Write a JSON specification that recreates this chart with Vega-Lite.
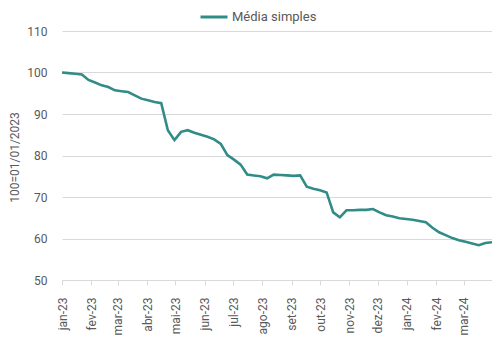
{
  "$schema": "https://vega.github.io/schema/vega-lite/v6.json",
  "width": 430,
  "height": 249,
  "autosize": {"type": "none"},
  "padding": {"left": 62, "top": 31, "right": 0, "bottom": 60},
  "background": "white",
  "config": {
    "font": "Roboto",
    "view": {"stroke": null}
  },
  "data": {
    "values": [
      {"date": "2023-01-01", "v": 100.0, "serie": "Média simples"},
      {"date": "2023-01-08", "v": 99.85, "serie": "Média simples"},
      {"date": "2023-01-15", "v": 99.7, "serie": "Média simples"},
      {"date": "2023-01-22", "v": 99.5, "serie": "Média simples"},
      {"date": "2023-01-29", "v": 98.2, "serie": "Média simples"},
      {"date": "2023-02-05", "v": 97.6, "serie": "Média simples"},
      {"date": "2023-02-12", "v": 96.9, "serie": "Média simples"},
      {"date": "2023-02-19", "v": 96.5, "serie": "Média simples"},
      {"date": "2023-02-26", "v": 95.7, "serie": "Média simples"},
      {"date": "2023-03-05", "v": 95.5, "serie": "Média simples"},
      {"date": "2023-03-12", "v": 95.3, "serie": "Média simples"},
      {"date": "2023-03-19", "v": 94.5, "serie": "Média simples"},
      {"date": "2023-03-26", "v": 93.7, "serie": "Média simples"},
      {"date": "2023-04-02", "v": 93.3, "serie": "Média simples"},
      {"date": "2023-04-09", "v": 92.9, "serie": "Média simples"},
      {"date": "2023-04-16", "v": 92.6, "serie": "Média simples"},
      {"date": "2023-04-23", "v": 86.1, "serie": "Média simples"},
      {"date": "2023-04-30", "v": 83.7, "serie": "Média simples"},
      {"date": "2023-05-07", "v": 85.7, "serie": "Média simples"},
      {"date": "2023-05-14", "v": 86.1, "serie": "Média simples"},
      {"date": "2023-05-21", "v": 85.5, "serie": "Média simples"},
      {"date": "2023-05-28", "v": 85.0, "serie": "Média simples"},
      {"date": "2023-06-04", "v": 84.5, "serie": "Média simples"},
      {"date": "2023-06-11", "v": 83.9, "serie": "Média simples"},
      {"date": "2023-06-18", "v": 82.8, "serie": "Média simples"},
      {"date": "2023-06-25", "v": 80.1, "serie": "Média simples"},
      {"date": "2023-07-02", "v": 79.0, "serie": "Média simples"},
      {"date": "2023-07-09", "v": 77.8, "serie": "Média simples"},
      {"date": "2023-07-16", "v": 75.4, "serie": "Média simples"},
      {"date": "2023-07-23", "v": 75.2, "serie": "Média simples"},
      {"date": "2023-07-30", "v": 75.0, "serie": "Média simples"},
      {"date": "2023-08-06", "v": 74.5, "serie": "Média simples"},
      {"date": "2023-08-13", "v": 75.4, "serie": "Média simples"},
      {"date": "2023-08-20", "v": 75.3, "serie": "Média simples"},
      {"date": "2023-08-27", "v": 75.2, "serie": "Média simples"},
      {"date": "2023-09-03", "v": 75.1, "serie": "Média simples"},
      {"date": "2023-09-10", "v": 75.2, "serie": "Média simples"},
      {"date": "2023-09-17", "v": 72.5, "serie": "Média simples"},
      {"date": "2023-09-24", "v": 72.0, "serie": "Média simples"},
      {"date": "2023-10-01", "v": 71.6, "serie": "Média simples"},
      {"date": "2023-10-08", "v": 71.1, "serie": "Média simples"},
      {"date": "2023-10-15", "v": 66.3, "serie": "Média simples"},
      {"date": "2023-10-22", "v": 65.1, "serie": "Média simples"},
      {"date": "2023-10-29", "v": 66.8, "serie": "Média simples"},
      {"date": "2023-11-05", "v": 66.8, "serie": "Média simples"},
      {"date": "2023-11-12", "v": 66.9, "serie": "Média simples"},
      {"date": "2023-11-19", "v": 66.9, "serie": "Média simples"},
      {"date": "2023-11-26", "v": 67.1, "serie": "Média simples"},
      {"date": "2023-12-03", "v": 66.3, "serie": "Média simples"},
      {"date": "2023-12-10", "v": 65.6, "serie": "Média simples"},
      {"date": "2023-12-17", "v": 65.3, "serie": "Média simples"},
      {"date": "2023-12-24", "v": 64.9, "serie": "Média simples"},
      {"date": "2023-12-31", "v": 64.7, "serie": "Média simples"},
      {"date": "2024-01-07", "v": 64.5, "serie": "Média simples"},
      {"date": "2024-01-14", "v": 64.2, "serie": "Média simples"},
      {"date": "2024-01-21", "v": 63.9, "serie": "Média simples"},
      {"date": "2024-01-28", "v": 62.6, "serie": "Média simples"},
      {"date": "2024-02-04", "v": 61.5, "serie": "Média simples"},
      {"date": "2024-02-11", "v": 60.8, "serie": "Média simples"},
      {"date": "2024-02-18", "v": 60.1, "serie": "Média simples"},
      {"date": "2024-02-25", "v": 59.6, "serie": "Média simples"},
      {"date": "2024-03-03", "v": 59.2, "serie": "Média simples"},
      {"date": "2024-03-10", "v": 58.8, "serie": "Média simples"},
      {"date": "2024-03-17", "v": 58.4, "serie": "Média simples"},
      {"date": "2024-03-24", "v": 58.9, "serie": "Média simples"},
      {"date": "2024-03-31", "v": 59.1, "serie": "Média simples"}
    ]
  },
  "mark": {"type": "line", "strokeWidth": 2.6, "interpolate": "linear"},
  "encoding": {
    "x": {
      "field": "date",
      "type": "temporal",
      "scale": {"type": "utc", "domain": ["2023-01-01", "2024-03-31"], "nice": false},
      "axis": {
        "title": null,
        "tickCount": {"interval": "month", "step": 1},
        "labelExpr": "['jan','fev','mar','abr','mai','jun','jul','ago','set','out','nov','dez'][utcmonth(datum.value)] + '-' + utcFormat(datum.value, '%y')",
        "labelAngle": -90,
        "labelAlign": "right",
        "labelBaseline": "middle",
        "labelPadding": 12,
        "labelFontSize": 12,
        "labelColor": "#595959",
        "labelOverlap": false,
        "labelFlush": false,
        "domainColor": "#d9d9d9",
        "domainWidth": 1,
        "tickColor": "#d9d9d9",
        "tickSize": 5,
        "grid": false
      }
    },
    "y": {
      "field": "v",
      "type": "quantitative",
      "scale": {"domain": [50, 110], "nice": false, "zero": false},
      "axis": {
        "title": "100=01/01/2023",
        "titleFontSize": 12,
        "titleFontWeight": "normal",
        "titleColor": "#595959",
        "titleX": -48,
        "titleY": 126,
        "titleAngle": -90,
        "titleAlign": "center",
        "titleBaseline": "middle",
        "values": [50, 60, 70, 80, 90, 100, 110],
        "labelFontSize": 12,
        "labelColor": "#595959",
        "labelPadding": 15,
        "domain": false,
        "ticks": false,
        "gridColor": "#d9d9d9",
        "gridWidth": 1
      }
    },
    "color": {
      "field": "serie",
      "type": "nominal",
      "scale": {"range": ["#318C87"]},
      "legend": {
        "title": null,
        "orient": "none",
        "legendX": 137,
        "legendY": -29,
        "symbolType": "stroke",
        "symbolSize": 729,
        "symbolStrokeWidth": 3,
        "labelFontSize": 13,
        "labelColor": "#595959",
        "labelOffset": 3
      }
    }
  }
}
